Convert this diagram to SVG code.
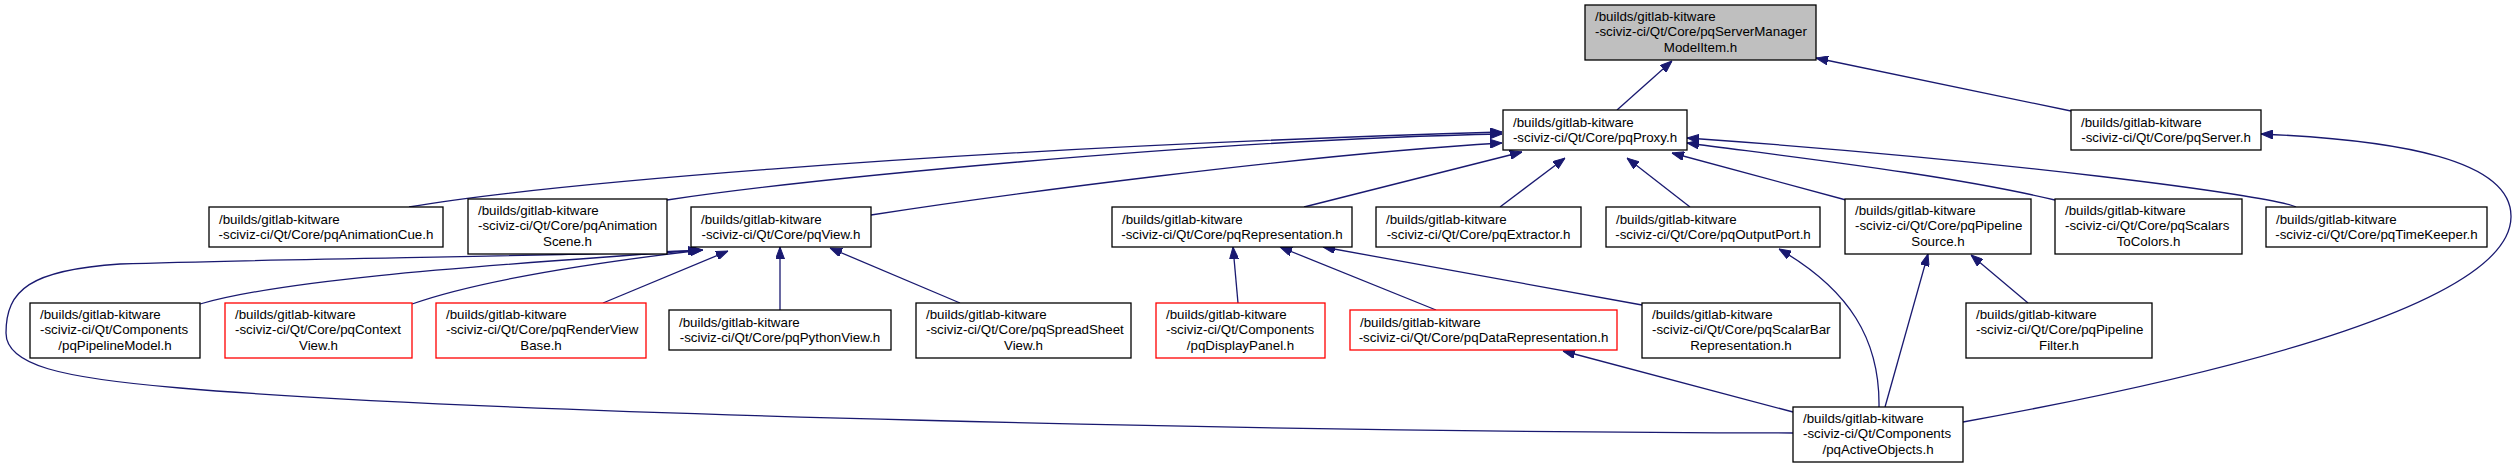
<svg xmlns="http://www.w3.org/2000/svg" width="2519" height="468" viewBox="0 0 2519 468">
<defs>
<marker id="ah" viewBox="0 0 12 9" refX="12" refY="4.5" markerWidth="12" markerHeight="9" markerUnits="userSpaceOnUse" orient="auto">
<path d="M0,0 L12,4.5 L0,9 z" fill="#191970" stroke="#191970" stroke-width="1"/>
</marker>
<style>
.n rect{fill:#fff;stroke:#000;stroke-width:1.3}
.n.root rect{fill:#bfbfbf}
.n.red rect{stroke:#ff0000}
.n text{font-family:"Liberation Sans",Arial,Helvetica,sans-serif;font-size:13.33px;fill:#000}
.n .c{text-anchor:middle}
.e path{fill:none;stroke:#191970;stroke-width:1.3;marker-end:url(#ah)}
</style>
</defs>
<rect width="2519" height="468" fill="#fff"/>
<g class="e" id="edges">
<path d="M1617,110 L1672,61"/>
<path d="M2071,111 L1816,58"/>
<path d="M409,207 C520,188 900,150 1502,132"/>
<path d="M667,200 C800,180 1200,140 1502,134"/>
<path d="M871,215 C1000,195 1300,155 1502,143"/>
<path d="M1304,207 L1522,152"/>
<path d="M1500,207 L1565,158"/>
<path d="M1690,207 L1627,158"/>
<path d="M1846,200 L1672,153"/>
<path d="M2055,200 C1950,175 1800,158 1687,143"/>
<path d="M2296,207 C2270,195 2000,160 1687,138"/>
<path d="M1963,422 C2250,370 2510,300 2511,217 C2512,160 2400,140 2261,134"/>
<path d="M1879,407 C1880,340 1850,290 1779,249"/>
<path d="M1885,407 L1928,254"/>
<path d="M2028,303 L1971,255"/>
<path d="M1793,412 L1563,351"/>
<path d="M1793,433 C1300,432 500,415 180,388 C60,378 6,365 6,333 C6,290 30,270 120,264 C300,258 600,256 703,250"/>
<path d="M200,304 C300,275 550,262 700,250"/>
<path d="M412,304 C480,280 600,262 702,250"/>
<path d="M603,303 L728,251"/>
<path d="M780,310 L780,247"/>
<path d="M960,303 L830,248"/>
<path d="M1238,303 L1233,247"/>
<path d="M1436,310 L1280,247"/>
<path d="M1642,305 L1323,247"/>
</g>
<g class="n root" id="pqServerManagerModelItem"><rect x="1585" y="5" width="231" height="55"/><text x="1595" y="20.5">/builds/gitlab-kitware</text><text x="1595" y="36">-sciviz-ci/Qt/Core/pqServerManager</text><text class="c" x="1700.5" y="51.5">ModelItem.h</text></g>
<g class="n" id="pqProxy"><rect x="1503" y="110" width="184" height="40"/><text x="1513" y="126.5">/builds/gitlab-kitware</text><text class="c" x="1595" y="142">-sciviz-ci/Qt/Core/pqProxy.h</text></g>
<g class="n" id="pqServer"><rect x="2071" y="110" width="190" height="40"/><text x="2081" y="126.5">/builds/gitlab-kitware</text><text class="c" x="2166" y="142">-sciviz-ci/Qt/Core/pqServer.h</text></g>
<g class="n" id="pqAnimationCue"><rect x="209" y="207" width="234" height="40"/><text x="219" y="223.5">/builds/gitlab-kitware</text><text class="c" x="326" y="239">-sciviz-ci/Qt/Core/pqAnimationCue.h</text></g>
<g class="n" id="pqAnimationScene"><rect x="468" y="199" width="199" height="55"/><text x="478" y="214.5">/builds/gitlab-kitware</text><text x="478" y="230">-sciviz-ci/Qt/Core/pqAnimation</text><text class="c" x="567.5" y="245.5">Scene.h</text></g>
<g class="n" id="pqView"><rect x="691" y="207" width="180" height="40"/><text x="701" y="223.5">/builds/gitlab-kitware</text><text class="c" x="781" y="239">-sciviz-ci/Qt/Core/pqView.h</text></g>
<g class="n" id="pqRepresentation"><rect x="1112" y="207" width="240" height="40"/><text x="1122" y="223.5">/builds/gitlab-kitware</text><text class="c" x="1232" y="239">-sciviz-ci/Qt/Core/pqRepresentation.h</text></g>
<g class="n" id="pqExtractor"><rect x="1376" y="207" width="205" height="40"/><text x="1386" y="223.5">/builds/gitlab-kitware</text><text class="c" x="1478.5" y="239">-sciviz-ci/Qt/Core/pqExtractor.h</text></g>
<g class="n" id="pqOutputPort"><rect x="1606" y="207" width="214" height="40"/><text x="1616" y="223.5">/builds/gitlab-kitware</text><text class="c" x="1713" y="239">-sciviz-ci/Qt/Core/pqOutputPort.h</text></g>
<g class="n" id="pqPipelineSource"><rect x="1845" y="199" width="186" height="55"/><text x="1855" y="214.5">/builds/gitlab-kitware</text><text x="1855" y="230">-sciviz-ci/Qt/Core/pqPipeline</text><text class="c" x="1938" y="245.5">Source.h</text></g>
<g class="n" id="pqScalarsToColors"><rect x="2055" y="199" width="187" height="55"/><text x="2065" y="214.5">/builds/gitlab-kitware</text><text x="2065" y="230">-sciviz-ci/Qt/Core/pqScalars</text><text class="c" x="2148.5" y="245.5">ToColors.h</text></g>
<g class="n" id="pqTimeKeeper"><rect x="2266" y="207" width="221" height="40"/><text x="2276" y="223.5">/builds/gitlab-kitware</text><text class="c" x="2376.5" y="239">-sciviz-ci/Qt/Core/pqTimeKeeper.h</text></g>
<g class="n" id="pqPipelineModel"><rect x="30" y="303" width="170" height="55"/><text x="40" y="318.5">/builds/gitlab-kitware</text><text x="40" y="334">-sciviz-ci/Qt/Components</text><text class="c" x="115" y="349.5">/pqPipelineModel.h</text></g>
<g class="n red" id="pqContextView"><rect x="225" y="303" width="187" height="55"/><text x="235" y="318.5">/builds/gitlab-kitware</text><text x="235" y="334">-sciviz-ci/Qt/Core/pqContext</text><text class="c" x="318.5" y="349.5">View.h</text></g>
<g class="n red" id="pqRenderViewBase"><rect x="436" y="303" width="210" height="55"/><text x="446" y="318.5">/builds/gitlab-kitware</text><text x="446" y="334">-sciviz-ci/Qt/Core/pqRenderView</text><text class="c" x="541" y="349.5">Base.h</text></g>
<g class="n" id="pqPythonView"><rect x="669" y="310" width="222" height="40"/><text x="679" y="326.5">/builds/gitlab-kitware</text><text class="c" x="780" y="342">-sciviz-ci/Qt/Core/pqPythonView.h</text></g>
<g class="n" id="pqSpreadSheetView"><rect x="916" y="303" width="215" height="55"/><text x="926" y="318.5">/builds/gitlab-kitware</text><text x="926" y="334">-sciviz-ci/Qt/Core/pqSpreadSheet</text><text class="c" x="1023.5" y="349.5">View.h</text></g>
<g class="n red" id="pqDisplayPanel"><rect x="1156" y="303" width="169" height="55"/><text x="1166" y="318.5">/builds/gitlab-kitware</text><text x="1166" y="334">-sciviz-ci/Qt/Components</text><text class="c" x="1240.5" y="349.5">/pqDisplayPanel.h</text></g>
<g class="n red" id="pqDataRepresentation"><rect x="1350" y="310" width="267" height="40"/><text x="1360" y="326.5">/builds/gitlab-kitware</text><text class="c" x="1483.5" y="342">-sciviz-ci/Qt/Core/pqDataRepresentation.h</text></g>
<g class="n" id="pqScalarBarRepresentation"><rect x="1642" y="303" width="198" height="55"/><text x="1652" y="318.5">/builds/gitlab-kitware</text><text x="1652" y="334">-sciviz-ci/Qt/Core/pqScalarBar</text><text class="c" x="1741" y="349.5">Representation.h</text></g>
<g class="n" id="pqPipelineFilter"><rect x="1966" y="303" width="186" height="55"/><text x="1976" y="318.5">/builds/gitlab-kitware</text><text x="1976" y="334">-sciviz-ci/Qt/Core/pqPipeline</text><text class="c" x="2059" y="349.5">Filter.h</text></g>
<g class="n" id="pqActiveObjects"><rect x="1793" y="407" width="170" height="55"/><text x="1803" y="422.5">/builds/gitlab-kitware</text><text x="1803" y="438">-sciviz-ci/Qt/Components</text><text class="c" x="1878" y="453.5">/pqActiveObjects.h</text></g>
</svg>
